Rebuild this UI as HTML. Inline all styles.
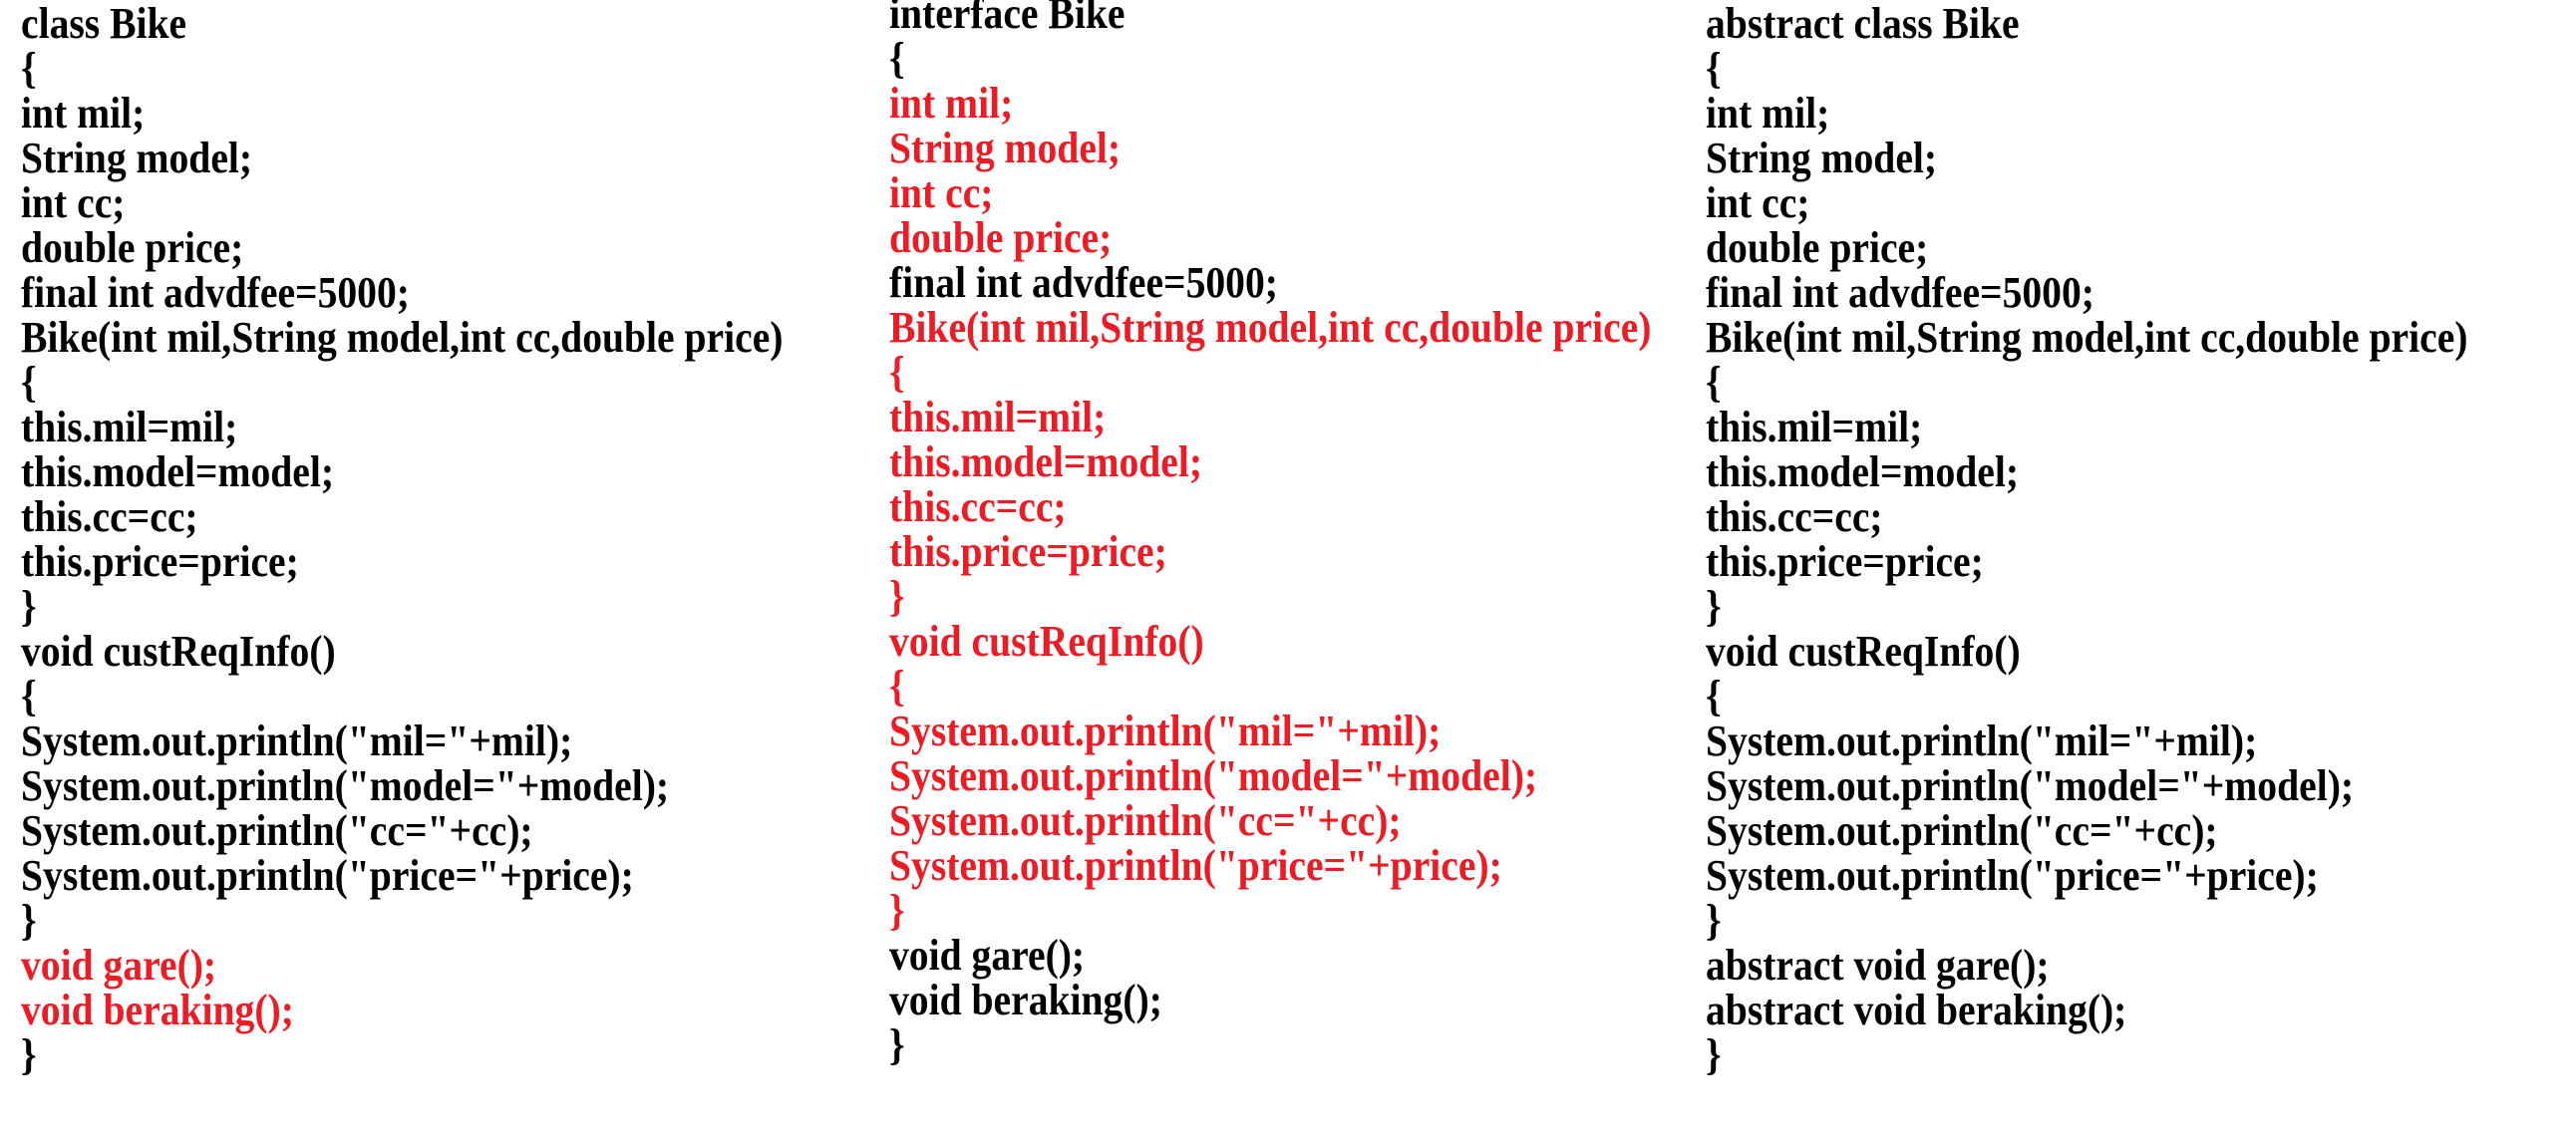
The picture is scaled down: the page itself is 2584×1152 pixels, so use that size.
<!DOCTYPE html>
<html><head><meta charset="utf-8"><style>
html,body{margin:0;padding:0;background:#fff;width:2584px;height:1152px;overflow:hidden}
.col{position:absolute;font-family:"Liberation Serif",serif;font-weight:bold;font-size:44px;line-height:45px;color:#000;white-space:pre;transform:scaleX(0.9);transform-origin:0 0}
.r{color:#ed1c24}
</style></head><body>
<div class="col" style="left:21px;top:1px">class Bike
{
int mil;
String model;
int cc;
double price;
final int advdfee=5000;
Bike(int mil,String model,int cc,double price)
{
this.mil=mil;
this.model=model;
this.cc=cc;
this.price=price;
}
void custReqInfo()
{
System.out.println("mil="+mil);
System.out.println("model="+model);
System.out.println("cc="+cc);
System.out.println("price="+price);
}
<span class="r">void gare();
void beraking();</span>
}</div>
<div class="col" style="left:892px;top:-9px">interface Bike
{
<span class="r">int mil;
String model;
int cc;
double price;</span>
final int advdfee=5000;
<span class="r">Bike(int mil,String model,int cc,double price)
{
this.mil=mil;
this.model=model;
this.cc=cc;
this.price=price;
}
void custReqInfo()
{
System.out.println("mil="+mil);
System.out.println("model="+model);
System.out.println("cc="+cc);
System.out.println("price="+price);
}</span>
void gare();
void beraking();
}</div>
<div class="col" style="left:1711px;top:1px">abstract class Bike
{
int mil;
String model;
int cc;
double price;
final int advdfee=5000;
Bike(int mil,String model,int cc,double price)
{
this.mil=mil;
this.model=model;
this.cc=cc;
this.price=price;
}
void custReqInfo()
{
System.out.println("mil="+mil);
System.out.println("model="+model);
System.out.println("cc="+cc);
System.out.println("price="+price);
}
abstract void gare();
abstract void beraking();
}</div>
</body></html>
